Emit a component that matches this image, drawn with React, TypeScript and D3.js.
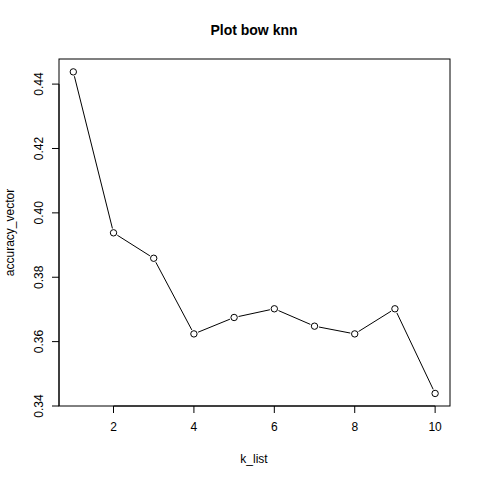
import React from 'react';
import * as d3 from 'd3';

const kList = [1, 2, 3, 4, 5, 6, 7, 8, 9, 10];
const accuracy = [0.4438, 0.3938, 0.3859, 0.3624, 0.3675, 0.3702, 0.3648, 0.3624, 0.3702, 0.3439];
const xTicks = [2, 4, 6, 8, 10];
const yTicks = [0.34, 0.36, 0.38, 0.40, 0.42, 0.44];

const left = 59, right = 450, top = 59, bottom = 406;
const font = 'Liberation Sans, Arial, sans-serif';

const App: React.FC = () => {
  const x = d3.scaleLinear().domain([0.644, 10.37]).range([left, right]);
  const y = d3.scaleLinear().domain([0.34, 0.4478]).range([bottom, top]);
  const line = d3.line<number>().x((_, i) => x(kList[i])).y(d => y(d));
  const pts = accuracy.map((d, i) => ({ cx: x(kList[i]), cy: y(d) }));

  return (
    <svg width={480} height={480} style={{ position: 'absolute', left: 0, top: 0, background: '#fff' }} fontFamily={font}>
      <text x={254} y={35} textAnchor="middle" fontSize={14} fontWeight="bold">Plot bow knn</text>
      <rect x={left} y={top} width={right - left} height={bottom - top} fill="none" stroke="#000" />
      {/* segments shortened around points like R type="b" */}
      {pts.slice(1).map((p, i) => {
        const a = pts[i];
        const dx = p.cx - a.cx, dy = p.cy - a.cy, len = Math.hypot(dx, dy), r = 4.5;
        return <line key={i} x1={a.cx + dx * r / len} y1={a.cy + dy * r / len} x2={p.cx - dx * r / len} y2={p.cy - dy * r / len} stroke="#000" />;
      })}
      <path d={line(accuracy) ?? ''} fill="none" stroke="none" />
      {pts.map((p, i) => <circle key={i} cx={p.cx} cy={p.cy} r={3.2} fill="none" stroke="#000" />)}
      <line x1={x(2)} x2={x(10)} y1={bottom} y2={bottom} stroke="#000" />
      {xTicks.map(t => (
        <g key={t}>
          <line x1={x(t)} x2={x(t)} y1={bottom} y2={bottom + 7} stroke="#000" />
          <text x={x(t)} y={bottom + 25} textAnchor="middle" fontSize={12}>{t}</text>
        </g>
      ))}
      <line x1={left} x2={left} y1={y(0.34)} y2={y(0.44)} stroke="#000" />
      {yTicks.map(t => (
        <g key={t}>
          <line x1={left} x2={left - 7} y1={y(t)} y2={y(t)} stroke="#000" />
          <text transform={`translate(${left - 16},${y(t)}) rotate(-90)`} textAnchor="middle" fontSize={12}>{t.toFixed(2)}</text>
        </g>
      ))}
      <text x={254} y={463} textAnchor="middle" fontSize={12}>k_list</text>
      <text transform={`translate(14,${(top + bottom) / 2}) rotate(-90)`} textAnchor="middle" fontSize={12}>accuracy_vector</text>
    </svg>
  );
};

export default App;
